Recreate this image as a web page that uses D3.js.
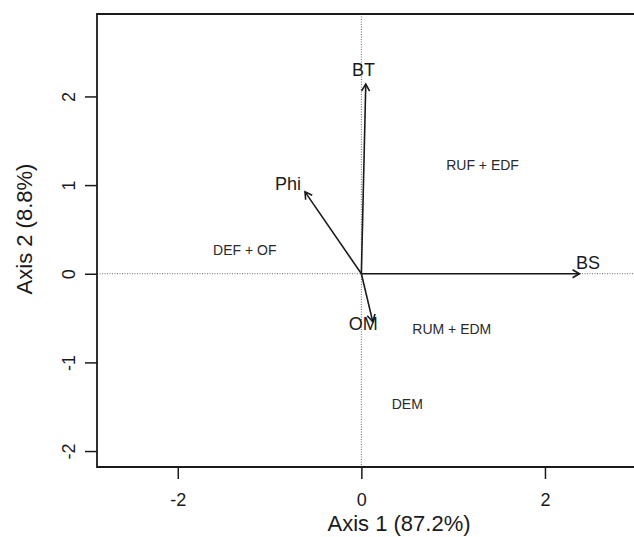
<!DOCTYPE html>
<html>
<head>
<meta charset="utf-8">
<script src="https://cdn.jsdelivr.net/npm/d3@7/dist/d3.min.js"></script>
<style>
  html, body { margin: 0; padding: 0; background: #fff; }
  svg { display: block; font-family: "Liberation Sans", Arial, Helvetica, sans-serif; }
</style>
</head>
<body>
<svg id="chart" width="634" height="537"></svg>
<script>
// Biplot: environmental vectors and group centroids on the first two axes
const variables = ["BT", "Phi", "BS", "OM"];
const arrowX = [0.048, -0.614, 2.376, 0.124];
const arrowY = [2.14, 0.924, 0.0, -0.54];
const varLabelX = [0.024, -0.80, 2.47, 0.02];
const varLabelY = [2.30, 1.02, 0.12, -0.56];

const groups = ["RUF + EDF", "DEF + OF", "RUM + EDM", "DEM"];
const groupX = [1.32, -1.27, 0.985, 0.50];
const groupY = [1.22, 0.27, -0.625, -1.475];

const xTicks = [-2, 0, 2];
const yTicks = [-2, -1, 0, 1, 2];
const xTitle = "Axis 1 (87.2%)";
const yTitle = "Axis 2 (8.8%)";

const svg = d3.select("#chart");
const plotLeft = 97, plotTop = 14, plotBottom = 467, plotRight = 634;

const x = d3.scaleLinear().domain([-2.88, 2.97]).range([plotLeft, plotRight]);
const y = d3.scaleLinear().domain([-2.18, 2.93]).range([plotBottom, plotTop]);

const ink = "#1a1a1a";
const plainNum = d => String(d);   // hyphen-minus, as in base graphics

// reference lines through the origin
svg.append("line")
  .attr("x1", plotLeft).attr("x2", plotRight)
  .attr("y1", y(0)).attr("y2", y(0))
  .attr("stroke", "#666").attr("stroke-width", 1)
  .attr("stroke-dasharray", "1,1.5");
svg.append("line")
  .attr("x1", x(0)).attr("x2", x(0))
  .attr("y1", plotTop).attr("y2", plotBottom)
  .attr("stroke", "#666").attr("stroke-width", 1)
  .attr("stroke-dasharray", "1,1.5");

// plot frame (left, top, bottom)
svg.append("path")
  .attr("d", `M${plotRight},${plotTop}H${plotLeft}V${plotBottom}H${plotRight}`)
  .attr("fill", "none").attr("stroke", ink).attr("stroke-width", 1.8);

// x axis
const xAxis = d3.axisBottom(x).tickValues(xTicks).tickSize(12).tickPadding(14)
  .tickFormat(plainNum);
const gx = svg.append("g").attr("transform", `translate(0,${plotBottom})`).call(xAxis);
gx.select(".domain").remove();
gx.selectAll(".tick line").attr("stroke", ink).attr("stroke-width", 1.5);
gx.selectAll(".tick text").attr("fill", ink).style("font-size", "18px")
  .style("font-family", "'Liberation Sans', Arial, sans-serif");

// y axis with rotated labels
const yAxis = d3.axisLeft(y).tickValues(yTicks).tickSize(12).tickPadding(0)
  .tickFormat(plainNum);
const gy = svg.append("g").attr("transform", `translate(${plotLeft},0)`).call(yAxis);
gy.select(".domain").remove();
gy.selectAll(".tick line").attr("stroke", ink).attr("stroke-width", 1.5);
gy.selectAll(".tick text")
  .attr("fill", ink)
  .attr("x", null)
  .attr("text-anchor", "middle")
  .attr("transform", "translate(-28,0) rotate(-90)")
  .attr("dy", "0.35em")
  .style("font-size", "18px")
  .style("font-family", "'Liberation Sans', Arial, sans-serif");

// axis titles
svg.append("text")
  .attr("x", 399).attr("y", 531)
  .attr("text-anchor", "middle")
  .attr("fill", ink).style("font-size", "22px")
  .text(xTitle);
svg.append("text")
  .attr("transform", `translate(32,229) rotate(-90)`)
  .attr("text-anchor", "middle")
  .attr("fill", ink).style("font-size", "22px")
  .text(yTitle);

// variable arrows with open heads
const headLen = 8, headAng = Math.PI / 6;
variables.forEach((v, i) => {
  const x0 = x(0), y0 = y(0);
  const x1 = x(arrowX[i]), y1 = y(arrowY[i]);
  svg.append("line")
    .attr("x1", x0).attr("y1", y0).attr("x2", x1).attr("y2", y1)
    .attr("stroke", ink).attr("stroke-width", 1.6);
  const a = Math.atan2(y1 - y0, x1 - x0);
  const p1 = [x1 - headLen * Math.cos(a - headAng), y1 - headLen * Math.sin(a - headAng)];
  const p2 = [x1 - headLen * Math.cos(a + headAng), y1 - headLen * Math.sin(a + headAng)];
  svg.append("path")
    .attr("d", `M${p1[0]},${p1[1]}L${x1},${y1}L${p2[0]},${p2[1]}`)
    .attr("fill", "none").attr("stroke", ink).attr("stroke-width", 1.6);
  svg.append("text")
    .attr("x", x(varLabelX[i])).attr("y", y(varLabelY[i]))
    .attr("dy", "0.35em")
    .attr("text-anchor", "middle")
    .attr("fill", ink).style("font-size", "18px")
    .text(v);
});

// group centroid labels
groups.forEach((g, i) => {
  svg.append("text")
    .attr("x", x(groupX[i])).attr("y", y(groupY[i]))
    .attr("dy", "0.35em")
    .attr("text-anchor", "middle")
    .attr("fill", "#2a2a2a").style("font-size", "14px")
    .text(g);
});
</script>
</body>
</html>
